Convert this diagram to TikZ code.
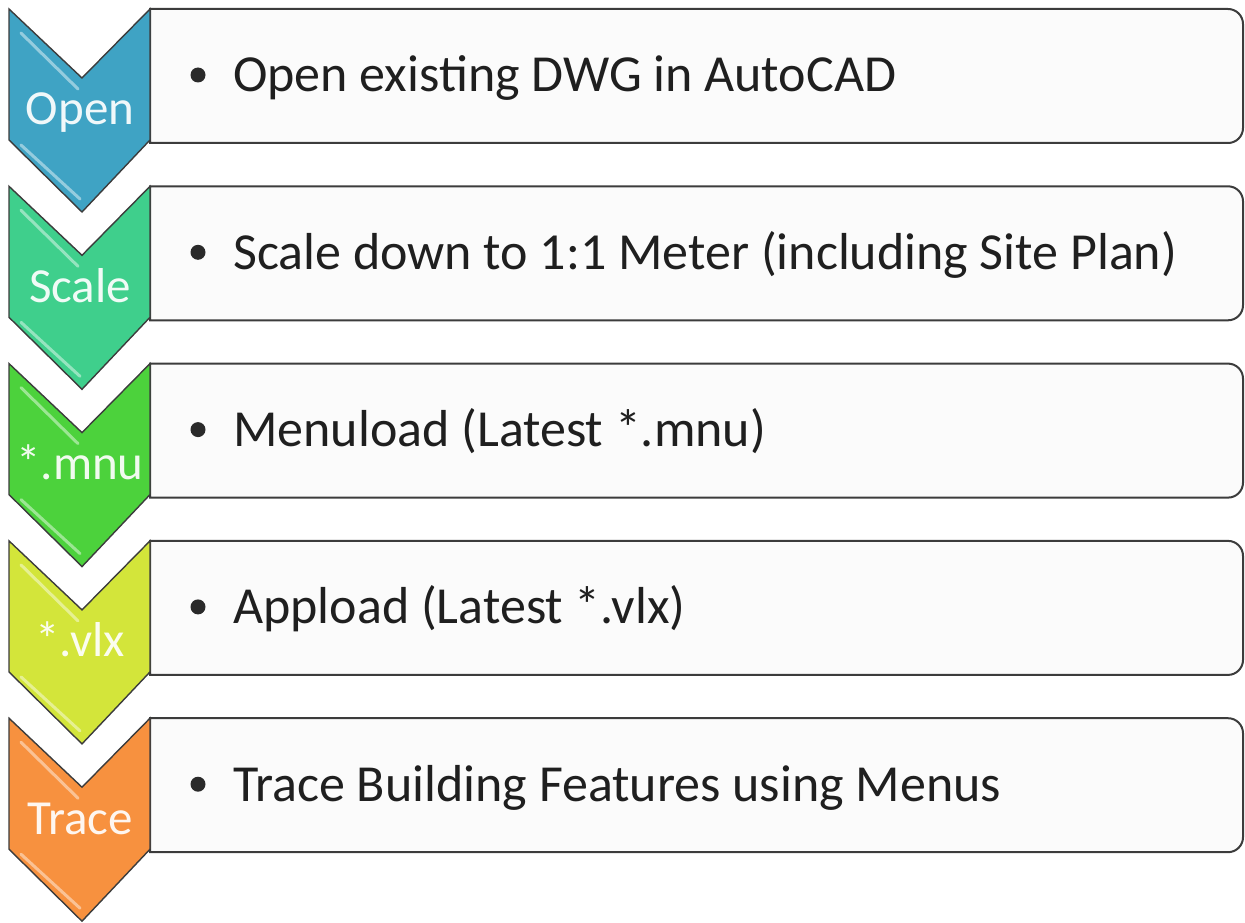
\documentclass[tikz,border=0pt]{standalone}
\usepackage{fontspec}
\setmainfont{Carlito}
\usepackage{tikz}
\usetikzlibrary{calc}
\definecolor{cOpen}{HTML}{3FA3C4}
\definecolor{cScale}{HTML}{3FCF8C}
\definecolor{cMnu}{HTML}{4CD23C}
\definecolor{cVlx}{HTML}{D3E53A}
\definecolor{cTrace}{HTML}{F7913F}
\definecolor{boxfill}{HTML}{FBFBFB}
\definecolor{edge}{HTML}{3C3C3C}
\tikzset{
  stepbox/.style={fill=boxfill, draw=edge, line width=2pt},
  chevron/.style={draw=edge, line width=1.4pt, line join=miter},
  steptext/.style={anchor=base west, inner sep=0pt, font=\fontsize{52}{60}\selectfont, text=black!88},
  chevlabel/.style={anchor=base, inner sep=0pt, font=\fontsize{49}{58}\selectfont},
  gloss/.style={line width=3pt, line cap=round, opacity=0.75},
}

\begin{document}
\begin{tikzpicture}[x=1pt, y=-1pt]
  \useasboundingbox (0,0) rectangle (1245,923);
  % one row per step, 177.3 apart
  \foreach \lab/\col/\txt [count=\k] in {
      Open/cOpen/Open existing DWG in AutoCAD,
      Scale/cScale/Scale down to 1:1 Meter (including Site Plan),
      *.mnu/cMnu/Menuload (Latest *.mnu),
      *.vlx/cVlx/Appload (Latest *.vlx),
      Trace/cTrace/Trace Building Features using Menus} {
    \pgfmathsetmacro{\t}{9+177.3*(\k-1)}
    \coordinate (tl\k) at (150,\t);
    \coordinate (br\k) at (1243,\t+134);
    % text box, rounded on the right only
    \draw[stepbox] (tl\k) -- ($(br\k|-tl\k)+(-15,0)$) [rounded corners=15pt] -- (br\k|-tl\k) -- (br\k)
      [sharp corners] -- (tl\k|-br\k) -- cycle;
    \fill[edge!70!black] (198,\t+66) circle (7.5pt);
    \node[steptext] (txt\k) at (233,\t+83) {\txt};
    % chevron
    \draw[chevron, fill=\col] (9,\t) -- (82,\t+69) -- (150,\t) -- (150,\t+131)
      -- (82,\t+203) -- (9,\t+131) -- cycle;
    \draw[gloss, \col!40!white] (21,\t+24) -- (78,\t+80);
    \draw[gloss, \col!40!white] (21,\t+136) -- (80,\t+190);
    \node[chevlabel, text=\col!8!white] (lab\k) at (80,\t+116) {\lab};
  }
\end{tikzpicture}
\end{document}
